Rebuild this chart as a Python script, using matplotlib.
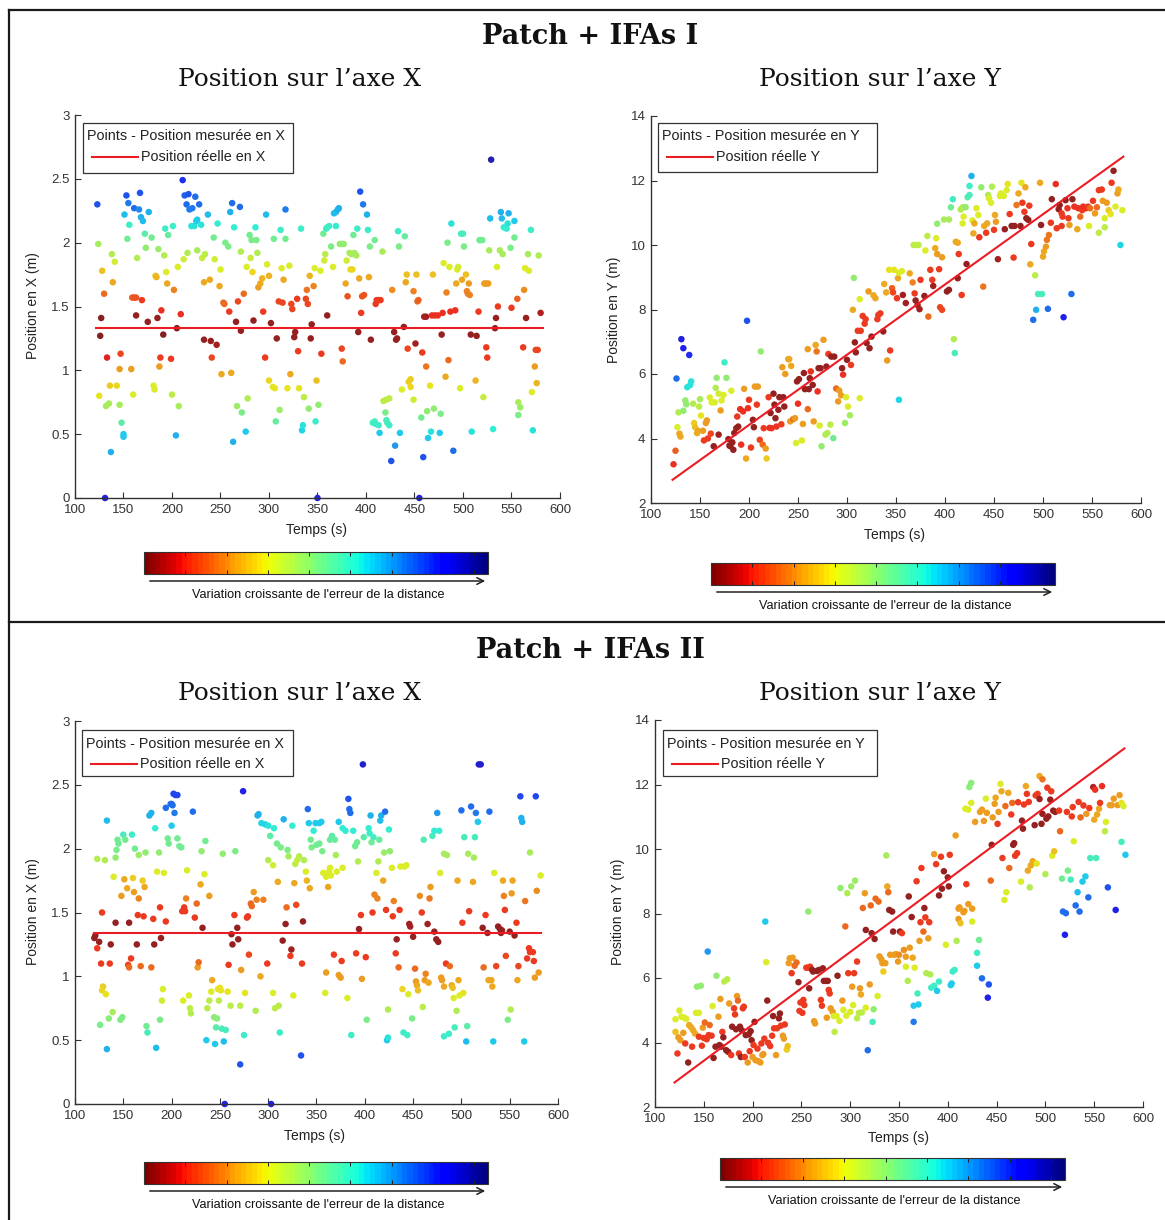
import numpy as np
import matplotlib
matplotlib.use("Agg")
import matplotlib.pyplot as plt
from matplotlib import colormaps
from matplotlib.colors import ListedColormap, Normalize
from matplotlib.cm import ScalarMappable
from matplotlib.lines import Line2D
from matplotlib.patches import Rectangle, FancyArrowPatch

W, H = 1165, 1220

# ---------------- Patch + IFAs I : X position ----------------
t_x1 = [123,124,128,130,127,126,133,125,132,135,
        136,137,131,138,141,139,143,146,146,147,
        148,150,150,151,153,155,156,154,158,159,
        161,163,160,161,163,164,166,167,168,169,
        170,172,173,175,176,179,181,182,183,184,
        185,186,187,188,189,191,192,193,194,195,
        196,199,200,201,202,204,205,206,207,209,
        211,212,213,215,216,217,218,220,221,223,
        224,225,226,226,228,230,231,233,233,234,
        237,239,240,241,243,244,246,247,249,250,
        251,253,254,255,258,259,260,261,262,263,
        264,266,267,268,270,271,271,272,274,276,
        278,277,280,281,282,283,284,286,287,288,
        289,291,293,294,296,297,298,300,300,302,
        304,305,306,307,308,310,311,312,313,314,
        315,317,317,319,321,322,323,324,326,327,
        329,330,331,333,334,335,336,338,339,340,
        341,342,343,344,346,347,348,349,350,351,
        353,357,358,356,359,360,362,364,366,367,
        369,371,372,369,373,375,377,360,354,375,
        376,379,380,381,383,384,386,387,385,388,
        390,391,392,393,394,395,396,398,397,401,
        402,403,404,405,409,410,411,413,415,407,
        409,410,413,414,417,418,421,424,420,421,
        422,424,426,427,429,430,431,432,433,434,
        435,437,439,440,441,442,443,444,446,446,
        449,449,451,452,453,454,455,457,458,459,
        460,462,462,463,464,466,467,468,469,470,
        471,474,476,477,478,479,480,482,483,484,
        485,486,487,488,490,492,493,494,495,497,
        498,499,500,501,503,504,505,506,507,508,
        509,513,514,516,517,518,520,521,522,524,
        526,524,525,527,529,528,531,533,534,535,
        536,538,539,540,541,542,545,546,547,549,
        550,553,553,556,557,557,559,562,563,564,
        565,567,568,570,571,572,574,575,577,576,
        578,580]
x1 = [2.30,1.99,1.78,1.60,1.41,1.27,1.10,0.80,0.72,0.74,
      0.88,0.36,0.0,1.91,1.85,1.69,0.88,0.73,1.01,1.13,
      0.59,0.48,0.50,2.22,2.37,2.31,2.14,2.03,1.01,1.57,
      1.57,1.57,0.81,2.27,1.43,1.88,2.26,2.39,2.20,1.55,
      2.17,2.07,1.96,1.38,2.24,2.04,0.88,0.85,1.74,1.73,
      1.41,1.95,1.03,1.10,1.47,1.28,1.90,2.11,1.77,1.68,
      2.06,1.09,0.81,2.13,1.63,0.49,1.33,1.81,0.72,1.44,
      2.49,1.87,2.37,2.30,1.92,2.38,2.26,2.13,2.27,2.13,
      2.36,2.17,1.94,2.18,2.30,2.14,1.88,1.69,1.24,1.91,
      2.22,1.71,1.23,1.10,2.04,1.87,1.20,2.15,1.66,1.79,
      0.97,1.53,1.52,2.00,1.97,1.46,2.24,0.98,2.31,0.44,
      2.12,1.38,0.72,1.54,2.28,1.93,1.31,0.67,1.60,0.52,
      0.78,1.81,2.06,1.88,2.02,1.77,1.39,2.12,2.02,1.92,
      1.65,1.68,1.72,1.46,1.10,2.22,1.83,0.92,1.74,1.37,
      0.87,2.03,0.86,0.60,1.25,1.54,0.69,2.10,1.80,1.53,
      1.71,2.26,2.03,0.86,1.82,0.97,1.52,1.48,1.26,1.30,
      1.56,1.15,0.86,2.11,0.53,0.57,0.79,1.56,1.63,1.52,
      0.70,1.74,1.25,1.36,1.66,1.80,0.60,0.92,0.0,0.73,
      1.78,1.86,1.91,2.07,2.11,2.12,2.13,1.97,1.81,2.23,
      2.24,2.26,2.27,2.13,1.99,1.99,1.99,1.43,1.13,1.17,
      1.07,1.68,1.86,1.58,1.92,1.79,1.79,2.06,1.91,1.92,
      1.90,2.11,1.30,1.72,2.40,1.45,1.58,1.59,2.30,2.22,
      2.10,1.73,1.97,1.24,2.02,1.52,1.55,1.55,1.55,0.59,
      0.60,0.58,0.57,0.51,1.93,0.76,0.77,0.78,0.67,0.61,
      0.59,0.57,0.29,1.63,1.30,0.41,1.24,1.25,2.09,1.97,
      0.51,0.85,1.34,2.05,1.69,1.75,1.17,0.91,0.93,0.87,
      0.77,1.62,1.21,1.75,1.54,1.55,0.0,0.63,1.14,0.32,
      1.42,1.42,1.03,0.68,0.47,0.88,0.52,1.43,1.75,0.70,
      1.43,1.43,0.51,0.66,1.28,1.45,1.84,0.95,1.61,2.00,
      1.08,1.81,1.46,2.15,0.37,1.47,1.68,1.79,1.81,0.86,
      2.07,1.71,2.07,1.97,1.75,1.62,1.60,1.68,1.59,1.28,
      0.52,0.92,1.27,1.46,2.02,2.02,2.02,0.79,1.68,1.68,
      1.68,1.18,1.10,1.94,2.65,2.19,0.54,1.33,1.41,1.81,
      1.50,1.94,2.24,2.19,1.91,2.12,2.11,2.15,2.23,1.96,
      1.49,2.04,2.17,1.56,0.75,0.65,0.71,1.18,1.63,1.80,
      1.41,1.91,1.78,2.10,0.83,0.53,1.03,1.16,1.16,0.90,
      1.90,1.45]
e_x1 = [8,4.5,3,2,0,0,1,3.5,4.5,4.5,
        3.2,7,9,4.3,3.8,2.7,3.3,4.5,2.6,1.5,
        5.5,6.7,6.7,6.8,8,7.6,6,5.2,2.6,1.8,
        1.6,1.6,3.6,7.7,0.3,4.3,7.4,8,6.9,1.4,
        6.8,5.5,4.7,0.3,6.9,5.2,3.6,3.6,3.0,2.9,
        0.2,4.6,2.6,1.3,1.2,0.1,4.3,6,3.6,2.8,
        5.4,1.4,4.2,6,2.2,6.9,0.1,3.6,4.5,1.2,
        8.5,3.9,7.9,7.7,4.3,8,7.6,6.3,7.6,6.3,
        7.8,6.6,4.4,6.6,7.7,6.3,4.0,2.8,0.3,4.2,
        6.8,2.8,0.3,1.5,5.2,3.9,0.4,6.2,2.7,3.6,
        2.8,1.9,1.9,5,5,1.4,7,2.8,7.8,7,
        6.2,0.3,4.6,1.5,7.8,4.3,0.3,5,2,6.6,
        4.3,3.6,5.3,4.0,5,3.3,0.3,6.2,5,4.3,
        2.5,2.7,2.9,1.3,1.4,6.8,3.6,3.3,2.9,0.3,
        3.5,5.2,3.5,5.4,0.3,1.5,4.6,6,3.6,1.5,
        2.8,7.6,5.3,3.5,3.6,2.8,1.5,1.5,0.2,0.2,
        1.4,1.4,3.5,6.0,6.5,6.3,4.2,1.5,2.1,1.5,
        4.8,2.9,0.3,0.3,2.3,3.6,6.0,3.0,9,4.7,
        3.7,3.8,4.2,5.3,6,6,6,5,3.6,6.8,
        6.8,7,7,6.2,4.7,4.7,4.7,0.3,1.4,1.5,
        2.0,2.7,3.8,1.6,4.4,3.3,3.3,5.3,4.4,4.4,
        4.4,6,0.3,2.8,8,1.4,1.6,1.6,7.6,6.9,
        6,2.8,5,0.3,5.2,1.4,1.4,1.4,1.4,6,
        5.8,6,6,6.6,4.4,4.2,4.2,4.2,5,5.8,
        5.8,6,8,2.4,0.3,7.2,0.3,0.3,6,5,
        6.6,3.6,0.3,5.4,2.8,3.0,1.5,3.2,3.2,3.4,
        3.8,2.2,0.4,3.0,1.9,1.8,9,5.3,1.4,8,
        0.4,0.4,2.1,4.8,6.7,3.5,6.3,1.2,3.0,4.8,
        1.2,1.2,6.6,5,0.2,1.2,3.7,2.8,2.2,5.0,
        2.0,3.7,1.2,6.3,7.8,1.2,2.7,3.6,3.8,3.6,
        5.8,2.7,5.8,5.0,3.0,2.2,2.2,2.6,2.2,0.2,
        6.3,2.9,0.2,1.3,5.2,5.2,5.2,4,2.6,2.6,
        2.6,1.4,1.4,4.4,9.5,6.8,6.2,0.2,0.3,3.7,
        1.3,4.4,7,6.8,4.4,6.2,6.2,6.3,6.9,5,
        1.3,5.2,6.6,1.8,4.4,5,4.6,1.4,2.4,3.7,
        0.3,4.4,3.6,6,3.7,6.3,2.6,1.5,1.5,2.9,
        4.3,0.5]
t_true_x1 = [122, 582]
x_true_1 = [1.33, 1.33]

# ---------------- Patch + IFAs I : Y position ----------------
t_y1 = [123,125,126,127,128,129,130,131,133,133,
        135,136,137,139,140,141,143,144,145,147,
        148,149,150,151,153,154,156,157,158,160,
        161,162,164,165,166,167,169,169,171,172,
        174,175,177,179,180,181,182,183,184,185,
        187,188,189,191,192,194,195,197,198,199,
        200,202,204,205,206,208,209,211,212,214,
        215,217,218,220,221,222,223,225,226,227,
        228,230,231,233,234,235,236,237,240,241,
        243,242,245,247,248,249,250,251,254,255,
        256,257,260,260,261,262,263,265,266,268,
        269,270,271,272,273,274,276,278,280,279,
        281,283,284,286,287,289,291,292,294,295,
        296,298,299,300,301,303,304,306,307,308,
        309,311,313,313,314,316,318,319,320,322,
        323,325,327,329,331,332,334,337,338,340,
        341,343,344,346,347,348,351,352,353,
        353,356,357,360,364,367,369,370,372,
        374,375,379,380,382,383,385,387,388,390,
        391,392,394,395,397,392,397,399,402,404,
        404,368,370,373,406,408,409,410,411,413,
        414,413,416,418,418,419,421,417,422,423,
        425,425,427,428,429,430,432,434,435,437,
        439,440,442,443,444,445,447,448,450,451,
        452,454,456,457,460,461,463,464,466,468,
        470,471,473,475,477,478,479,481,482,483,
        485,486,487,488,490,492,493,495,497,498,
        499,500,501,503,504,505,506,508,509,513,
        514,516,517,519,519,520,521,523,525,526,
        527,529,530,532,535,536,538,540,541,544,
        546,547,548,551,553,555,557,560,557,561,
        563,563,565,567,569,570,572,574,576,577,
        579,581]
y1 = [3.20,3.62,5.86,4.35,4.81,4.15,4.06,7.08,6.80,4.86,
      5.18,5.06,5.59,6.59,5.66,5.77,5.08,4.48,4.35,4.17,
      4.24,4.99,5.22,4.71,4.24,3.94,4.48,4.56,4.00,5.27,
      4.15,5.12,3.76,5.12,5.57,5.88,4.12,5.39,4.87,5.18,
      5.35,6.36,5.88,3.98,3.78,3.76,5.48,3.88,3.65,4.17,
      4.32,4.68,4.37,4.91,3.81,4.84,5.54,3.38,7.65,4.94,
      5.20,3.72,4.58,4.35,5.61,5.05,5.61,3.96,6.70,3.81,
      4.32,3.69,3.38,5.28,4.33,4.79,4.32,5.39,5.05,4.63,
      4.37,4.89,5.28,4.44,6.21,5.28,4.99,6.00,6.46,6.46,
      6.25,4.53,4.60,4.63,3.86,5.77,5.08,5.84,3.94,4.45,
      6.03,5.53,6.77,4.91,5.53,5.87,6.08,5.66,4.53,6.90,
      6.70,5.46,6.18,4.40,6.18,3.76,7.06,4.12,4.17,6.23,
      6.62,4.43,6.54,4.01,6.54,5.55,5.15,5.49,5.34,6.18,
      5.98,4.48,5.28,6.44,4.99,4.72,6.28,7.99,8.98,6.98,
      6.67,7.34,8.32,5.25,7.34,7.80,7.56,7.70,6.96,8.56,
      6.80,7.16,8.44,8.35,7.70,7.83,7.88,7.32,8.79,8.53,
      6.42,9.23,6.73,8.66,8.53,9.23,8.35,8.97,5.20,
      9.14,9.19,8.45,8.20,9.12,8.84,8.50,8.28,8.14,
      8.01,8.92,8.42,9.83,10.28,7.78,9.23,8.92,8.73,9.90,
      10.21,9.72,9.25,8.07,7.99,10.66,9.62,10.79,8.56,8.61,
      10.79,10.00,10.00,10.00,11.17,11.42,7.08,6.65,10.10,10.07,
      9.72,8.97,11.10,10.67,11.17,10.88,11.17,8.45,9.41,11.48,
      11.55,11.83,12.14,10.76,10.36,10.67,11.14,10.93,10.24,11.79,
      8.71,10.59,10.38,10.67,11.55,11.45,11.31,11.81,10.47,10.93,
      10.72,9.56,11.52,11.60,11.52,10.49,11.70,11.89,10.96,10.59,
      9.61,10.59,11.24,11.60,10.59,11.93,11.31,11.03,11.79,10.83,
      10.78,11.22,9.40,10.03,7.68,9.06,7.99,8.48,11.93,10.62,
      8.48,9.64,9.80,9.95,10.16,8.02,10.31,10.69,11.42,11.89,
      10.52,11.11,11.24,10.98,10.59,10.88,7.76,11.39,11.14,10.83,
      10.62,8.48,11.42,11.19,10.49,11.14,10.88,11.08,11.19,11.14,
      11.19,10.59,11.14,11.37,10.98,11.17,11.70,11.72,10.38,11.37,
      10.55,10.83,11.31,11.08,10.96,11.93,12.30,11.19,11.60,11.72,
      10.00,11.08]
e_y1 = [1.2,1.8,7.8,3.6,4.3,2.8,2.8,9,8.6,4.8,
        4.8,4.8,6.4,8.5,6.4,6.4,4.3,3.2,3.0,2.7,
        2.7,4.2,4.4,3.5,2.6,1.4,2.5,2.6,1.4,3.7,
        1.5,3.7,0.3,3.7,4.3,4.8,0.4,3.8,2.6,3.6,
        3.6,6,4.8,0.3,0.3,0.3,3.6,0.3,0.3,0.3,
        0.4,1.3,0.3,1.2,1.2,1.2,2.6,2.8,8,1.2,
        1.3,1.4,0.3,0.3,2.6,1.3,2.6,1.5,4.8,2.0,
        1.3,2.5,3.2,1.3,1.2,0.3,1.2,0.3,0.3,0.3,
        1.2,0.3,0.3,1.3,2.6,0.3,0.3,2.6,2.7,2.7,
        2.7,2.6,2.1,2.5,3.6,0.3,1.2,0.3,3.6,2.6,
        0.3,0.3,2.6,2.0,0.3,0.3,1.2,0.3,2.6,2.7,
        2.1,1.2,0.3,3.7,0.3,4.8,2.6,4.3,4.3,0.3,
        1.3,4.2,0.3,5.3,0.3,2.0,2.6,2.6,2.6,0.3,
        1.2,4.6,3.6,0.3,3.6,4.4,1.3,2.7,4.8,0.3,
        0.3,1.3,3.6,3.6,1.3,1.3,1.3,1.3,0.3,2.6,
        0.3,0.3,2.7,2.7,1.3,1.3,1.3,0.3,2.8,2.8,
        2.6,3.5,1.4,1.8,1.5,3.5,1.4,2.8,6.5,
        3.6,3.6,0.4,0.4,2.7,2.2,1.4,0.3,0.4,
        0.4,1.4,0.3,3.6,4.2,2.0,1.4,1.4,0.4,2.7,
        3.6,2.6,1.4,1.5,1.5,4.7,2.6,4.4,0.3,0.3,
        4.4,4.2,4.2,4.2,5.2,6,4.3,5.8,2.7,2.7,
        1.4,0.3,4.3,3.6,4.3,3.7,4.8,1.4,0.3,5.5,
        5.8,6,6.9,3.7,2.7,2.7,3.6,3.6,1.4,4.8,
        2.1,2.7,1.4,2.7,4.3,3.7,3.6,4.3,1.4,2.7,
        2.6,0.4,3.6,3.6,3.6,0.3,3.6,3.5,1.3,0.3,
        1.4,0.3,2.1,2.7,0.3,3.5,1.3,1.3,2.8,0.3,
        0.3,1.3,2.7,1.4,7.8,4.2,6.9,5.9,2.8,0.3,
        5.9,2.8,2.7,2.6,2.1,7.7,2.1,1.3,0.3,1.2,
        1.3,0.3,0.3,1.3,1.3,1.3,8.7,0.3,1.2,1.3,
        2.5,7.7,0.3,1.2,2.7,1.2,2.0,1.3,1.2,1.2,
        1.3,3.6,2.0,1.3,2.6,2.0,1.3,1.3,4.2,2.6,
        4.2,3.6,2.6,3.2,3.5,1.3,0.3,3.6,2.6,2.7,
        6.5,3.7]
t_true_y1 = [122, 582]
y_true_1 = [2.72, 12.74]

# ---------------- Patch + IFAs II : X position ----------------
t_x2 = [120,121,123,123,125,126,127,128,129,128,
        131,132,133,133,135,136,137,139,140,142,
        142,143,144,145,147,148,149,150,151,152,
        154,155,156,156,158,159,160,161,162,164,
        165,166,166,168,170,171,172,173,174,175,
        177,179,179,181,182,183,184,185,187,188,
        188,189,190,191,192,194,194,196,197,199,
        200,201,200,202,204,206,203,206,208,210,
        211,213,212,214,215,216,218,219,220,222,
        224,226,227,228,230,232,231,234,235,236,
        237,239,239,241,242,244,245,246,247,248,
        249,250,251,252,254,253,255,256,258,259,
        261,262,263,265,266,268,269,271,271,272,
        274,275,276,278,279,280,282,283,285,287,
        288,289,290,292,293,295,297,299,300,300,
        302,303,305,305,306,307,309,310,311,312,
        313,315,316,318,319,320,321,323,324,325,
        326,327,328,329,330,332,334,335,336,337,
        339,340,341,342,343,344,345,347,349,350,
        353,355,353,356,357,360,359,360,362,363,
        364,365,364,366,369,368,370,371,373,373,
        375,376,377,377,380,382,383,384,385,386,
        388,390,391,392,393,394,396,397,398,399,
        401,402,404,405,406,407,408,409,410,412,
        413,414,415,416,417,419,420,421,422,423,
        424,424,425,426,428,429,430,432,433,435,
        436,437,439,440,441,443,444,445,446,447,
        449,450,452,453,454,455,457,459,460,461,
        462,463,465,466,467,468,470,472,472,474,
        475,476,477,478,479,480,482,482,482,484,
        485,487,488,490,491,492,493,495,496,497,
        498,500,501,502,503,505,506,507,508,510,
        512,513,514,515,517,518,520,522,523,525,
        527,528,529,531,532,533,534,536,538,540,
        541,542,543,544,545,546,548,550,551,552,
        553,555,557,558,559,561,562,563,565,566,
        568,570,571,571,574,575,576,577,578,580,
        582]
x2 = [1.30,1.32,1.22,1.92,1.27,0.62,1.10,1.50,0.92,0.89,
      1.91,0.86,2.22,0.43,0.67,1.10,1.25,0.72,1.78,1.42,
      1.93,1.99,2.07,2.04,0.66,1.63,0.68,2.11,1.76,2.07,
      1.69,1.09,1.42,1.07,1.14,2.11,1.77,1.66,2.00,1.25,
      1.48,1.95,1.61,1.08,1.75,1.47,1.70,1.97,0.61,0.56,
      2.26,2.28,1.07,1.45,1.25,2.16,0.44,1.82,1.97,1.54,
      0.66,1.30,0.81,0.90,1.81,1.43,2.32,2.08,2.04,2.35,
      2.35,2.34,2.18,2.43,2.42,2.42,2.28,2.08,2.02,2.01,
      1.51,1.54,0.81,1.51,1.61,1.83,0.85,0.75,0.71,2.29,
      1.46,1.57,1.07,1.11,1.72,1.38,1.98,1.80,2.06,0.50,
      0.75,1.63,0.81,0.88,0.97,0.68,0.47,0.60,0.67,0.90,
      0.81,0.91,0.89,0.59,0.49,1.96,0.0,0.58,0.88,1.09,
      0.77,1.33,1.25,1.48,1.98,1.38,1.29,0.31,0.77,1.05,
      2.45,0.54,0.87,1.46,1.47,1.17,1.57,1.55,1.66,0.73,
      1.60,2.26,2.27,1.00,2.20,1.60,2.19,1.10,2.18,1.91,
      2.10,0.0,0.87,1.87,2.16,0.75,2.04,1.74,0.77,0.56,
      2.01,1.28,2.23,1.41,1.54,1.99,1.94,1.16,1.21,2.18,
      0.85,1.73,1.88,1.56,1.91,1.94,0.38,1.10,1.43,1.91,
      1.82,1.75,2.31,2.20,1.69,2.07,2.01,2.14,2.20,2.03,
      2.20,2.21,2.04,1.98,1.81,1.78,0.87,1.03,1.70,1.82,
      1.85,1.79,2.07,2.10,2.07,1.17,1.95,1.82,2.21,1.01,
      0.99,1.12,1.85,2.16,2.14,0.83,2.39,2.31,2.28,0.54,
      2.14,2.02,1.18,2.05,1.90,1.37,1.48,0.98,2.66,2.09,
      1.15,0.66,2.16,2.12,2.26,2.05,1.50,2.09,1.64,1.81,
      1.61,1.90,2.07,2.22,2.26,1.75,1.97,2.29,1.52,0.50,
      0.74,0.52,2.15,1.98,1.85,1.47,1.59,1.18,1.29,1.07,
      1.52,1.86,0.90,0.56,1.86,1.87,0.54,0.86,1.41,1.39,
      0.67,1.31,1.06,0.96,0.93,0.89,1.63,1.50,0.76,2.07,
      0.97,1.02,1.41,0.95,1.61,1.70,2.10,2.14,1.35,1.29,
      2.28,1.27,2.14,1.81,0.99,0.97,0.92,0.53,1.96,1.10,
      1.95,0.55,1.08,0.93,0.91,0.83,0.60,0.73,1.75,0.97,
      0.85,2.30,1.42,0.87,2.09,0.49,0.61,1.96,1.51,2.33,
      1.74,1.93,2.09,2.28,2.21,2.66,2.66,1.38,1.07,1.48,
      1.34,0.97,2.29,0.97,0.92,0.49,1.81,1.08,1.39,1.37,
      1.34,1.36,1.75,1.63,1.52,1.16,0.66,1.35,0.74,1.65,
      1.75,1.32,1.42,0.97,1.08,2.41,2.24,2.21,0.49,1.59,
      1.14,1.22,1.19,1.97,1.19,1.12,0.99,2.41,1.67,1.03,
      1.79]
e_x2 = [0.3,0.3,1.3,4.3,0.3,5,1.4,1.3,3.2,3.4,
        4.3,3.5,6.8,6.9,4.9,1.4,0.3,4.5,3.6,0.3,
        4.8,5,5.3,5.3,5,2.5,5,5.8,2.8,5.3,
        2.7,1.5,0.3,2.0,1.3,6,3.2,2.6,5.2,0.3,
        1.4,4.6,2.2,2.0,3.2,1.3,2.7,4.8,5.3,5.8,
        6.9,6.9,2.0,1.4,0.3,6.2,6.8,3.6,4.8,1.3,
        5.0,0.3,3.8,3.6,3.6,1.4,7.8,5.3,5.2,7.8,
        7.8,7.8,6.6,8.2,8.2,8.2,7.6,5.3,5.2,5.2,
        1.3,1.4,3.7,1.4,2.2,3.6,3.6,4.2,4.3,7.7,
        1.4,2.0,2.5,2.0,2.7,0.3,4.8,3.7,5.2,6.7,
        4.2,2.5,4.2,3.6,2.8,4.8,6.7,5.6,4.9,3.5,
        4.1,3.5,3.5,5.8,6.8,4.8,9,5.8,3.5,1.4,
        4.2,0.3,0.3,1.3,5,0.3,0.3,8,4.2,2.5,
        8.6,6,3.5,1.4,1.4,1.5,2.0,2.0,2.5,4.3,
        2.2,6.9,6.9,2.8,6.5,2.2,6.5,1.4,6.3,4.3,
        5.5,9,3.6,3.8,6.2,4.2,5.3,2.8,4.2,6,
        5.1,0.3,6.9,0.3,2.0,5,4.4,1.4,0.4,6.2,
        3.6,2.7,4.2,1.5,4.0,4.2,8,1.4,0.3,4.3,
        3.7,2.9,7.8,6.6,2.7,5.3,5,6.1,6.7,5.2,
        6.7,6.7,5.2,5,3.6,3.6,3.7,2.6,2.7,3.6,
        3.6,3.6,5.4,5.6,5.4,1.4,4.4,3.6,6.7,2.6,
        2.6,1.4,3.6,6.2,6.2,3.7,8,7.8,7.8,6,
        6.2,5.2,1.4,5.3,4.3,0.3,1.3,2.6,9.2,5.6,
        1.4,5,6.2,6,6.9,5.3,1.3,5.8,2.2,3.6,
        2.2,4.3,5.4,6.8,6.9,2.8,4.6,7.7,1.3,6.6,
        4.3,6.3,6.2,4.8,3.6,1.3,2.2,1.4,0.3,2.0,
        1.3,3.6,3.3,6,3.6,3.6,6,3.6,0.4,0.4,
        5,0.3,2.0,2.6,2.8,3.0,2.4,1.3,4.2,5.7,
        2.6,2.2,0.4,2.7,2.1,2.6,5.8,6.1,0.3,0.3,
        7.3,0.3,6.1,3.6,2.6,2.6,2.8,6,4.4,1.4,
        4.4,6,1.9,2.8,3.0,3.6,5.8,4.3,2.8,2.8,
        3.6,7.7,1.3,3.5,5.8,6.8,5.6,4.4,1.3,7.8,
        2.8,4.4,5.8,7.6,6.7,9.2,9.2,0.3,2.0,1.3,
        0.3,2.7,7.7,2.7,2.8,6.7,3.6,1.5,0.3,0.3,
        0.3,0.3,2.8,2.2,1.3,1.5,5,0.3,4.3,2.5,
        2.8,0.3,1.3,2.8,1.5,8.2,7,7,6.7,2.1,
        1.4,1.4,1.4,4.4,1.4,1.4,2.6,8.2,2.4,2.5,
        3.6]
t_true_x2 = [120, 582]
x_true_2 = [1.34, 1.34]

# ---------------- Patch + IFAs II : Y position ----------------
t_y2 = [121,121,123,124,125,126,127,129,130,131,
        132,134,135,137,138,139,141,142,143,145,
        145,147,148,149,150,151,153,154,155,156,
        158,159,160,162,163,165,166,167,168,169,
        170,171,173,174,175,176,178,179,181,182,
        183,184,185,186,187,188,189,190,191,192,
        193,195,196,197,198,199,200,201,202,203,
        205,206,208,209,210,211,212,213,214,215,
        216,218,220,221,222,224,225,227,228,229,
        231,232,233,235,236,237,238,240,241,243,
        245,247,248,249,251,252,253,255,257,257,
        259,258,261,262,263,264,266,268,270,271,
        272,273,275,276,277,278,279,280,282,283,
        284,286,287,289,290,292,293,295,296,297,
        298,300,301,302,303,304,305,307,307,309,
        310,311,312,313,315,316,316,318,320,321,
        322,324,323,325,326,328,329,330,332,333,
        334,336,337,338,339,340,341,343,344,345,
        347,349,
        351,353,350,355,357,361,364,357,359,
        360,363,366,368,369,365,370,365,371,372,
        373,375,376,377,378,380,381,382,383,386,
        386,388,389,391,393,391,394,396,398,400,
        401,402,403,404,405,407,408,409,411,411,
        412,413,416,417,419,421,418,421,422,424,
        424,425,425,428,430,430,432,433,435,435,
        437,439,440,441,442,444,445,446,448,449,
        451,452,454,455,456,458,459,460,462,463,
        465,466,467,468,469,471,472,475,476,477,
        478,480,481,482,483,484,485,487,489,491,
        490,492,494,494,496,497,497,500,501,502,
        503,505,506,507,508,509,510,514,515,517,
        518,520,521,522,523,526,527,528,529,531,
        533,534,535,536,538,539,541,542,544,545,
        546,549,550,551,552,553,555,556,558,561,
        562,564,566,568,570,572,574,576,578,578,
        580,582]
y2 = [4.72,4.33,3.66,4.16,4.99,4.07,4.80,4.30,4.77,3.97,
      4.73,3.38,4.54,4.47,3.87,4.38,4.28,4.92,5.73,4.92,
      4.18,5.76,3.90,4.46,4.14,4.62,4.10,6.82,4.23,4.54,
      4.21,5.13,3.52,3.87,6.07,4.80,3.92,5.35,3.87,4.33,
      4.16,5.89,3.76,5.96,3.71,5.21,3.61,4.49,5.06,4.87,
      4.41,5.44,5.30,3.66,4.49,3.55,4.38,5.06,5.11,3.55,
      4.23,3.38,4.25,3.73,4.35,4.07,3.55,3.92,4.64,3.45,
      3.81,3.42,3.38,3.97,3.61,3.64,4.12,7.75,6.49,5.30,
      3.99,3.89,4.21,4.82,4.44,3.61,4.44,4.75,4.90,4.52,
      4.21,4.12,4.56,3.78,3.89,6.46,6.61,6.15,6.63,6.38,
      6.48,5.87,4.98,5.24,4.92,5.32,5.16,6.32,6.32,8.06,
      6.35,5.68,6.25,6.20,4.66,4.59,6.22,6.25,5.32,5.14,
      6.30,5.91,5.91,4.77,5.91,5.63,5.52,5.06,4.95,4.82,
      4.33,4.82,6.07,4.67,8.79,5.30,5.01,7.60,4.83,8.63,
      6.15,4.95,8.84,5.73,5.16,6.15,9.02,6.51,4.75,4.92,
      5.68,5.49,4.93,8.17,8.63,7.49,5.08,3.76,5.80,8.25,
      7.39,5.03,4.64,7.21,8.46,5.44,8.37,6.67,6.58,6.46,
      6.20,6.46,9.80,8.84,8.66,8.11,6.72,8.06,7.44,6.72,
      6.74,6.51,
      7.44,7.39,6.72,6.87,6.66,6.94,6.63,6.35,5.91,
      8.53,7.89,6.32,9.00,5.52,5.14,5.18,4.64,7.15,7.73,
      9.41,7.44,8.17,7.88,6.15,7.23,7.73,6.11,5.70,5.76,
      9.84,9.53,5.60,5.89,9.76,8.56,8.77,9.31,7.03,9.12,
      8.84,9.82,5.78,5.83,6.20,6.25,10.42,7.15,8.15,7.83,
      8.19,7.70,8.04,8.08,8.91,8.29,11.25,11.22,11.92,12.05,
      11.43,8.15,7.75,10.84,6.38,6.78,7.18,11.15,11.22,5.99,
      10.87,11.56,11.12,5.39,5.80,9.02,10.13,10.98,11.40,11.59,
      10.78,11.15,12.02,11.79,9.72,8.42,11.33,8.66,11.74,9.41,
      11.07,11.43,10.13,10.18,9.79,9.87,11.45,8.99,10.88,10.63,
      11.38,11.95,11.71,9.33,11.46,8.81,9.49,9.62,10.74,9.55,
      11.66,11.71,12.26,11.55,10.78,11.09,12.16,9.22,10.94,11.90,
      11.01,11.53,11.79,9.79,11.19,9.93,11.15,11.19,10.55,9.08,
      8.06,7.34,8.01,11.15,9.33,9.05,11.01,11.30,10.24,8.25,
      8.66,11.46,8.06,10.98,8.99,11.35,9.15,11.09,8.50,11.27,
      9.72,11.92,10.91,11.84,9.72,11.07,11.25,11.43,11.95,10.55,
      10.84,8.81,11.36,11.36,11.56,8.11,11.36,11.67,11.43,10.22,
      11.33,9.82]
e_y2 = [3.6,3.0,1.4,2.6,3.7,2.6,3.6,2.6,3.6,1.4,
        3.6,0.3,2.7,2.7,1.4,2.7,2.7,3.7,4.8,3.7,
        1.4,4.8,1.4,2.6,1.4,2.0,1.4,7.3,1.4,2.0,
        1.4,3.6,0.3,0.3,4.8,2.6,0.3,2.6,0.3,1.4,
        0.3,4.2,0.3,4.2,0.3,2.6,1.4,0.3,1.4,1.4,
        0.3,2.6,2.0,1.4,0.3,0.3,0.3,1.4,1.4,1.4,
        0.3,2.6,0.3,1.4,0.3,0.3,2.5,1.4,0.3,2.5,
        1.4,2.6,2.6,1.4,2.5,2.5,1.4,6.6,3.6,0.3,
        1.4,1.4,1.4,0.3,1.4,2.5,1.4,0.3,0.3,1.4,
        2.6,2.6,1.4,3.2,3.1,2.6,2.6,1.4,2.6,1.9,
        2.0,0.3,1.4,1.4,1.4,1.4,1.4,1.4,1.4,4.8,
        1.4,0.3,0.3,0.3,2.6,2.6,0.3,0.3,1.4,1.4,
        0.3,0.3,0.3,2.5,0.3,1.4,1.4,2.6,2.6,3.6,
        4.2,3.6,0.3,3.6,4.8,2.6,3.6,1.9,3.6,4.3,
        1.4,3.6,4.6,2.6,3.6,1.4,4.6,1.4,4.2,4.2,
        2.6,2.7,4.2,1.9,2.6,0.3,3.7,7.8,2.6,2.0,
        0.3,4.8,5.8,0.3,2.0,3.6,2.0,2.6,2.6,2.6,
        3.2,2.6,4.4,2.7,2.0,0.3,2.6,0.3,0.3,2.6,
        2.6,2.6,
        0.3,1.4,2.4,2.4,2.6,2.6,2.7,3.6,4.3,
        0.3,0.3,3.6,1.4,5.8,6.6,6.6,7.6,2.6,1.4,
        1.4,2.0,0.3,1.4,4.3,2.6,1.4,4.3,6,6,
        2.6,1.4,6.6,6,1.4,0.3,0.3,0.3,3.6,0.3,
        0.3,1.4,6.6,6.6,6,6,2.6,4.3,2.6,2.6,
        2.6,3.0,2.6,2.6,1.4,2.6,3.6,3.6,4.9,4.9,
        3.6,2.6,3.6,2.6,6.6,6,5.3,2.6,2.6,7.8,
        2.6,3.6,2.6,8.6,8,2.0,0.3,2.6,2.6,2.7,
        1.4,2.6,3.6,2.7,1.4,3.6,2.0,3.6,2.7,2.0,
        1.4,2.0,0.3,0.3,1.4,1.4,1.3,3.6,0.3,0.3,
        1.3,2.7,1.3,2.7,1.4,4.3,2.7,2.8,0.3,3.5,
        1.3,1.3,2.7,0.4,0.3,0.3,2.1,4.3,0.3,1.3,
        0.3,0.3,1.3,3.6,0.3,3.1,0.3,1.3,2.0,5.2,
        7.8,8.7,7.8,1.3,5.1,5.8,1.3,1.3,3.6,7.8,
        6.8,1.3,7.8,2.0,6.7,1.3,6.7,2.6,7.8,1.3,
        5.8,0.5,2.7,1.2,5.8,2.7,2.7,1.3,1.2,4.2,
        3.6,8,2.6,2.6,2.6,8.8,2.6,2.6,3.5,5.8,
        3.6,6.7]
t_true_y2 = [120, 581]
y_true_2 = [2.76, 13.12]

# ---------------- shared axis settings and labels ----------------
time_ticks = [100, 150, 200, 250, 300, 350, 400, 450, 500, 550, 600]
x_ticks = [0, 0.5, 1, 1.5, 2, 2.5, 3]
x_tick_labels = ["0", "0.5", "1", "1.5", "2", "2.5", "3"]
y_ticks = [2, 4, 6, 8, 10, 12, 14]
y_tick_labels = ["2", "4", "6", "8", "10", "12", "14"]
err_ticks = [1.2, 2.4, 3.6, 4.8, 6.0, 7.2, 8.4, 9.6]

section_titles = ["Patch + IFAs I", "Patch + IFAs II"]
axis_titles = ["Position sur l\u2019axe X", "Position sur l\u2019axe Y"]
legend_x = ["Points - Position mesurée en X", "Position réelle en X"]
legend_y = ["Points - Position mesurée en Y", "Position réelle Y"]
ylabel_x = "Position en X (m)"
ylabel_y = "Position en Y (m)"
xlabel_t = "Temps (s)"
err_caption = "Variation croissante de l'erreur de la distance"

plt.rcParams["font.family"] = ["Liberation Sans", "DejaVu Sans"]

fig = plt.figure(figsize=(W / 100, H / 100), dpi=100)

# error scale: 64-step reversed jet; markers use a slightly muted copy
_jet = colormaps["jet_r"](np.linspace(0, 1, 64))
err_cmap = ListedColormap(_jet)
_muted = _jet.copy()
_muted[:, :3] = 0.8 * _jet[:, :3] + 0.2 * 0.62
point_cmap = ListedColormap(_muted)
err_norm = Normalize(0, 10)
AX_COL = "#333333"
RED = "#ec1c24"


def frac_rect(l, t, r, b):
    return [l / W, 1 - b / H, (r - l) / W, (b - t) / H]


def fx(x):
    return x / W


def fy(y):
    return 1 - y / H


def panel(rect, t, v, e, t_true, v_true, ylim, yt, ytl, labels, leg_box,
          ylabel, ylab_pos, xlab_pos, cbar_rect):
    l, top, r, b = rect
    ax = fig.add_axes(frac_rect(*rect))
    ax.scatter(t, v, c=e, cmap=point_cmap, norm=err_norm, s=22,
               linewidths=0, zorder=2, clip_on=False)
    ax.plot(t_true, v_true, color=RED, lw=1.5, zorder=3)
    ax.set_xlim(100, 600)
    ax.set_ylim(*ylim)
    ax.set_xticks(time_ticks)
    ax.set_xticklabels([str(v_) for v_ in time_ticks])
    ax.set_yticks(yt)
    ax.set_yticklabels(ytl)
    for side in ("top", "right"):
        ax.spines[side].set_visible(False)
    for side in ("left", "bottom"):
        ax.spines[side].set_color(AX_COL)
        ax.spines[side].set_linewidth(1.0)
    ax.tick_params(direction="in", length=4, width=0.8, color=AX_COL,
                   labelcolor="#333333", labelsize=9.5, pad=4)

    # legend frame with its two entries
    def ax_xy(px, py):
        return (px - l) / (r - l), (b - py) / (b - top)

    bl, bt, br, bb = leg_box
    x0, y0 = ax_xy(bl, bb)
    x1_, y1_ = ax_xy(br, bt)
    ax.add_patch(Rectangle((x0, y0), x1_ - x0, y1_ - y0, transform=ax.transAxes,
                           facecolor="white", edgecolor="#333333", lw=0.9,
                           zorder=5, clip_on=False))
    tx, ty1 = ax_xy(bl + 4, bt + 13.5)
    ax.text(tx, ty1, labels[0], transform=ax.transAxes, ha="left",
            va="center", fontsize=10.4, color="#222222", zorder=6)
    sx0, ty2 = ax_xy(bl + 9, bt + 34)
    sx1, _ = ax_xy(bl + 55, bt + 34)
    ax.plot([sx0, sx1], [ty2, ty2], transform=ax.transAxes, color=RED,
            lw=1.5, zorder=6, clip_on=False)
    tx2, _ = ax_xy(bl + 58, bt + 34)
    ax.text(tx2, ty2, labels[1], transform=ax.transAxes, ha="left",
            va="center", fontsize=10.4, color="#222222", zorder=6)

    fig.text(fx(ylab_pos[0]), fy(ylab_pos[1]), ylabel, rotation=90,
             ha="center", va="center", fontsize=10, color="#222222")
    fig.text(fx(xlab_pos[0]), fy(xlab_pos[1]), xlabel_t, ha="center",
             va="center", fontsize=10, color="#222222")

    # error colour scale with arrow and caption
    cl, ct, cr, cb_ = cbar_rect
    cax = fig.add_axes(frac_rect(*cbar_rect))
    cbar = fig.colorbar(ScalarMappable(norm=err_norm, cmap=err_cmap),
                        cax=cax, orientation="horizontal")
    cbar.set_ticks(err_ticks)
    cax.tick_params(direction="in", length=3, width=0.7, top=True,
                    bottom=True, labelbottom=False, color="#222222")
    cbar.outline.set_linewidth(0.8)
    cbar.outline.set_edgecolor("#333333")
    fig.add_artist(FancyArrowPatch((fx(cl + 3), fy(cb_ + 7)),
                                   (fx(cr), fy(cb_ + 7)),
                                   transform=fig.transFigure,
                                   arrowstyle="->", mutation_scale=12,
                                   lw=1.1, color="#222222"))
    fig.text(fx((cl + cr) / 2 + 2), fy(cb_ + 21), err_caption, ha="center",
             va="center", fontsize=9.1, color="#111111")
    return ax


panel((75, 115, 560, 498), t_x1, x1, e_x1, t_true_x1, x_true_1, (0, 3),
      x_ticks, x_tick_labels, legend_x, (83, 123, 293, 173), ylabel_x,
      (33, 306), (317, 530), (144, 552, 488, 574))
panel((651, 116, 1141, 503), t_y1, y1, e_y1, t_true_y1, y_true_1, (2, 14),
      y_ticks, y_tick_labels, legend_y, (658, 123, 877, 172), ylabel_y,
      (614, 310), (895, 535), (711, 563, 1055, 585))
panel((75, 721, 558, 1104), t_x2, x2, e_x2, t_true_x2, x_true_2, (0, 3),
      x_ticks, x_tick_labels, legend_x, (82, 730, 293, 776), ylabel_x,
      (33, 912), (315, 1136), (144, 1162, 488, 1184))
panel((655, 720, 1143, 1107), t_y2, y2, e_y2, t_true_y2, y_true_2, (2, 14),
      y_ticks, y_tick_labels, legend_y, (663, 730, 877, 776), ylabel_y,
      (618, 912), (898, 1138), (720, 1158, 1065, 1180))

# section and panel titles
for title, yc in zip(section_titles, (37, 651)):
    fig.text(fx(590), fy(yc), title, ha="center", va="center",
             fontsize=19.5, fontweight="bold", family="DejaVu Serif",
             color="#111111")
for yc in (80, 693):
    fig.text(fx(300), fy(yc), axis_titles[0], ha="center", va="center",
             fontsize=18, family="DejaVu Serif", color="#111111")
    fig.text(fx(880), fy(yc), axis_titles[1], ha="center", va="center",
             fontsize=18, family="DejaVu Serif", color="#111111")

# frame lines around and between the two blocks
frame = dict(transform=fig.transFigure, color="#1a1a1a", lw=1.6)
fig.add_artist(Line2D([fx(9), fx(9)], [0, fy(10)], **frame))
fig.add_artist(Line2D([fx(9), 1], [fy(10), fy(10)], **frame))
fig.add_artist(Line2D([fx(9), 1], [fy(622), fy(622)], **frame))

fig.savefig("out.png", dpi=100, facecolor="white")
